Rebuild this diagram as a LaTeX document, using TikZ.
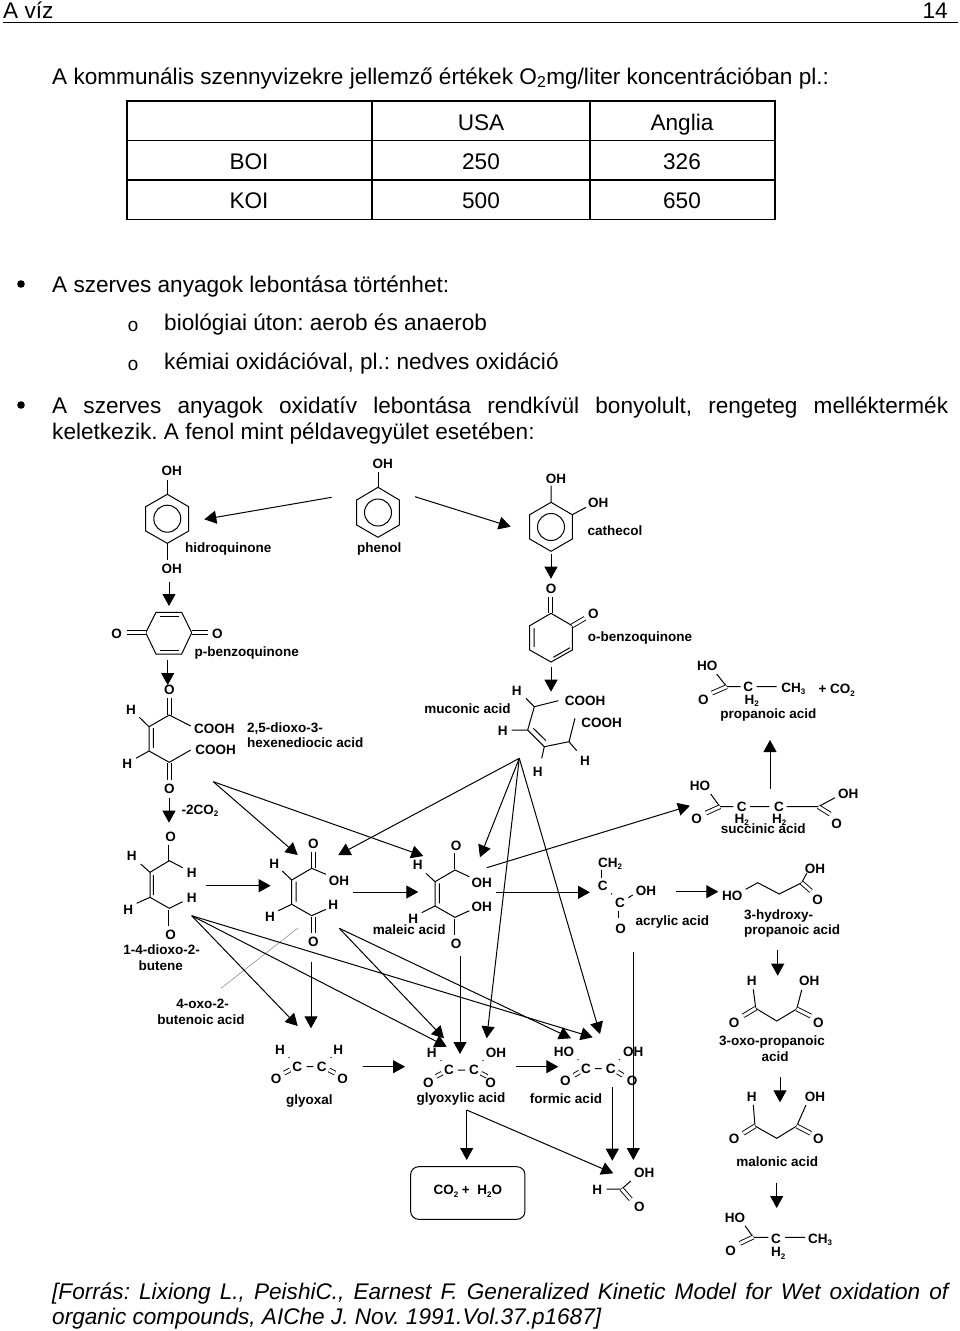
\documentclass[tikz,border=0pt]{standalone}
\usepackage{fontspec}
\setmainfont{Liberation Sans}
\newfontfamily\courfont{Liberation Mono}
\usetikzlibrary{arrows.meta}
\newcommand{\sbs}[1]{\raisebox{-2.6pt}{\fontsize{8}{8}\selectfont #1}}
\tikzset{l/.style={font=\fontsize{22.6}{26}\selectfont, inner sep=0pt, text height=16pt, text depth=0pt}}
\tikzset{m/.style={font=\fontsize{13.5}{14}\selectfont\bfseries, inner sep=0pt, text height=9.7pt, text depth=0pt}}
\tikzset{
arr/.style={line width=1pt, -{Triangle[length=12pt,width=13pt]}}, bond/.style={line width=1pt, line join=miter}, dbl/.style={line width=.9pt, double, double distance=3pt}
}

\begin{document}
\frenchspacing
\begin{tikzpicture}[x=1pt,y=-1pt]
    \useasboundingbox (0,0) rectangle (960,1331);
    % page head and text
    \node [l, anchor=west] (head) at (3,10) {A víz};
    \node [l, anchor=east] (pageno) at (948,10) {14};
    \coordinate (ruleA) at (3,22.5);
    \coordinate (ruleB) at (958,22.5);
    \draw [line width=1.4pt] (ruleA) -- (ruleB);
    \node [l, anchor=west] (intro) at (52,76) {A kommunális szennyvizekre jellemző értékek O\textsubscript{2}mg/liter koncentrációban pl.:};
    % table
    \draw [line width=1.1pt] (127,101) rectangle (775,219.5);
    \draw [line width=1.1pt] (127,140.5) -- (775,140.5) (127,180) -- (775,180) (372,101) -- (372,219.5) (590,101) -- (590,219.5);
    \node [l] (usa) at (481,122) {USA};
    \node [l] (anglia) at (682,122) {Anglia};
    \node [l] (boi) at (249,161) {BOI};
    \node [l] (boiA) at (481,161) {250};
    \node [l] (boiB) at (682,161) {326};
    \node [l] (koi) at (249,200) {KOI};
    \node [l] (koiA) at (481,200) {500};
    \node [l] (koiB) at (682,200) {650};
    % lists
    \fill (21,284) circle [radius=3.8];
    \node [l, anchor=west] (listA) at (52,284) {A szerves anyagok lebontása történhet:};
    \node [l, font=\fontsize{19}{25}\courfont] (oA) at (133,323) {o};
    \node [l, anchor=west] (listB) at (164,322) {biológiai úton: aerob és anaerob};
    \node [l, font=\fontsize{19}{25}\courfont] (oB) at (133,362) {o};
    \node [l, anchor=west] (listC) at (164,361) {kémiai oxidációval, pl.: nedves oxidáció};
    \fill (21,405) circle [radius=3.8];
    \node [l, anchor=west] (listD) at (52,405) {\makebox[896pt][s]{A szerves anyagok oxidatív lebontása rendkívül bonyolult, rengeteg melléktermék}};
    \node [l, anchor=west] (listE) at (52,431) {keletkezik. A fenol mint példavegyület esetében:};
    \node [l, anchor=west, font=\fontsize{22.6}{26}\selectfont\itshape] (srcA) at (52,1291) {\makebox[896pt][s]{[Forrás: Lixiong L., PeishiC., Earnest F. Generalized Kinetic Model for Wet oxidation of}};
    \node [l, anchor=west, font=\fontsize{22.6}{26}\selectfont\itshape] (srcB) at (52,1316) {organic compounds, AIChe J. Nov. 1991.Vol.37.p1687]};

    % hidroquinone
    \draw [bond] (167.3,494.3) -- (188.7,506.7) -- (188.7,531) -- (167.3,543.3) -- (145.7,531) -- (145.7,506.7) -- cycle;
    \draw [bond] (167.3,518.7) circle [radius=13.5];
    \draw [bond] (167.3,494.3) -- (167.3,480) (167.3,543.3) -- (167.3,560);
    \node [m] (hqA) at (171.7,471) {OH};
    \node [m] (hqB) at (171.7,569) {OH};
    \node [m] (hqname) at (228.3,547.3) {hidroquinone};
    % phenol
    \draw [bond] (378,487.3) -- (399.3,500) -- (399.3,525) -- (378,537.3) -- (356.7,525) -- (356.7,500) -- cycle;
    \draw [bond] (378,512.5) circle [radius=13.5];
    \draw [bond] (378,487.3) -- (378,471.7);
    \node [m] (phA) at (382.7,463.3) {OH};
    \node [m] (phname) at (379.3,547.3) {phenol};
    % cathecol
    \draw [bond] (551,502.3) -- (572.3,514.7) -- (572.3,539) -- (551,551.3) -- (529.7,539) -- (529.7,514.7) -- cycle;
    \draw [bond] (551,527) circle [radius=13.5];
    \draw [bond] (551,502.3) -- (551,485.7) (572.3,514.7) -- (586,507.3);
    \node [m] (caA) at (556,478.3) {OH};
    \node [m] (caB) at (598.3,502.3) {OH};
    \node [m] (caname) at (615,531) {cathecol};
    % p-benzoquinone
    \draw [bond] (145.7,632.7) -- (156,612.3) -- (181.7,612.3) -- (191.7,632.7) -- (181.7,654) -- (156,654) -- cycle;
    \draw [bond] (159.5,616) -- (178.5,616) (159.5,650.5) -- (178.5,650.5);
    \draw [dbl] (126.7,632.7) -- (145.7,632.7);
    \draw [dbl] (191.7,632.7) -- (208.3,632.7);
    \node [m] (pbA) at (116.7,633.3) {O};
    \node [m] (pbB) at (217.3,633.3) {O};
    \node [m] (pbname) at (246.7,652) {p-benzoquinone};
    % o-benzoquinone
    \draw [bond] (551,613.3) -- (572.3,625.7) -- (572.3,650) -- (551,662) -- (529.7,650) -- (529.7,625.7) -- cycle;
    \draw [bond] (534,628) -- (534,647) (553.3,657.3) -- (570,647.7);
    \draw [dbl] (550.7,596.7) -- (550.7,613);
    \draw [dbl] (572.3,625.7) -- (585,618.3);
    \node [m] (obA) at (551,589) {O};
    \node [m] (obB) at (593.3,613.3) {O};
    \node [m] (obname) at (640,636.7) {o-benzoquinone};
    % 2,5-dioxo-3-hexenediocic acid
    \draw [dbl] (169.5,698) -- (169.5,715);
    \draw [dbl] (169.5,763) -- (169.5,780);
    \draw [bond] (190.7,726) -- (169.3,715) -- (149,726.7) -- (149,751) -- (169.3,762.3) -- (190.7,750);
    \draw [bond] (153.3,728) -- (153.3,748) (149,726.7) -- (139.3,717.3) (149,751) -- (136,758.3);
    \node [m] (dxA) at (169.3,690) {O};
    \node [m] (dxB) at (169.3,788.3) {O};
    \node [m] (dxC) at (131,710) {H};
    \node [m] (dxD) at (127.3,763.3) {H};
    \node [m] (dxE) at (214.3,728.3) {COOH};
    \node [m] (dxF) at (215.7,749.3) {COOH};
    \node [m, anchor=west] (dxname) at (247,727.3) {2,5-dioxo-3-};
    \node [m, anchor=west] (dxnameB) at (247,742.7) {hexenediocic acid};
    \node [m] (minus) at (200,809.3) {-2CO\sbs{2}};
    % muconic acid
    \draw [bond] (526,698.3) -- (534.3,706.7) -- (558.3,700.7) (534.3,706.7) -- (527.7,730) -- (544.3,746.7) -- (569,741.7) -- (575,718.3) (511.7,730) -- (527.7,730);
    \draw [bond] (533.3,728.3) -- (546,740.7) (544.3,746.7) -- (541.7,758.3) (569,741.7) -- (576.7,750.7);
    \node [m] (muA) at (516.7,690.7) {H};
    \node [m] (muB) at (502.7,730.7) {H};
    \node [m] (muC) at (537.7,771.7) {H};
    \node [m] (muD) at (585,761) {H};
    \node [m] (muE) at (585,700.7) {COOH};
    \node [m] (muF) at (601.7,722.7) {COOH};
    \node [m] (muname) at (467.5,708.7) {muconic acid};
    % propanoic acid + CO2
    \draw [bond] (716.7,674) -- (726.7,686.7) -- (740.7,686.7) (756.7,686.7) -- (776.7,686.7);
    \draw [dbl] (712,693) -- (726.7,686.7);
    \node [m] (paA) at (707.3,665.7) {HO};
    \node [m] (paB) at (703.3,699.3) {O};
    \node [m] (paC) at (748.3,686.7) {C};
    \node [m] (paD) at (793.3,687.3) {CH\sbs{3}};
    \node [m] (paE) at (751.7,699.3) {H\sbs{2}};
    \node [m] (paF) at (836.7,689) {+ CO\sbs{2}};
    \node [m] (paname) at (768.3,713.7) {propanoic acid};
    % succinic acid
    \draw [bond] (710.7,794) -- (720,806.7) -- (733.3,806.7) (750,806.7) -- (769.3,806.7) (786.7,806.7) -- (818.3,806.7) -- (835,797.7);
    \draw [dbl] (706,813) -- (720,806.7);
    \draw [dbl] (818.3,806.7) -- (830,814);
    \node [m] (suA) at (700,786) {HO};
    \node [m] (suB) at (696.7,819) {O};
    \node [m] (suC) at (741.7,806.7) {C};
    \node [m] (suD) at (779,806.7) {C};
    \node [m] (suE) at (848.3,793.3) {OH};
    \node [m] (suF) at (836.7,824) {O};
    \node [m] (suG) at (741.7,818.3) {H\sbs{2}};
    \node [m] (suH) at (779.3,818.3) {H\sbs{2}};
    \node [m] (suname) at (763.3,828.7) {succinic acid};
    % 1-4-dioxo-2-butene
    \draw [dbl] (170,845) -- (170,860.7);
    \draw [dbl] (170,910) -- (170,926);
    \draw [bond] (182.7,867.7) -- (169.3,860.7) -- (150,872.3) -- (150,897.3) -- (169.3,908.3) -- (182.7,901.7);
    \draw [bond] (153.3,875) -- (153.3,895) (150,872.3) -- (140.7,864) (150,897.3) -- (136.7,903.3);
    \node [m] (dbA) at (170.7,836.7) {O};
    \node [m] (dbB) at (170.7,935) {O};
    \node [m] (dbC) at (131.7,856) {H};
    \node [m] (dbD) at (128.3,909.3) {H};
    \node [m] (dbE) at (191.7,872.7) {H};
    \node [m] (dbF) at (191.7,897.3) {H};
    \node [m] (dbname) at (161.7,949.3) {1-4-dioxo-2-};
    \node [m] (dbnameB) at (160.7,965.3) {butene};
    % 4-oxo-2-butenoic acid
    \draw [dbl] (313.3,851.7) -- (313.3,867.7);
    \draw [dbl] (313.3,917.3) -- (313.3,933.3);
    \draw [bond] (326,874.3) -- (311.7,868.3) -- (291.7,880) -- (291.7,904.3) -- (311.7,915.7) -- (326,909.3);
    \draw [bond] (296,881.7) -- (296,901.7) (291.7,880) -- (282.3,871) (291.7,904.3) -- (278.3,910.7);
    \node [m] (ooA) at (313.3,844) {O};
    \node [m] (ooB) at (313.3,941.7) {O};
    \node [m] (ooC) at (274.3,863.3) {H};
    \node [m] (ooD) at (270,916.7) {H};
    \node [m] (ooE) at (339,880.3) {OH};
    \node [m] (ooF) at (333.3,904.7) {H};
    \node [m] (ooname) at (202.7,1003.3) {4-oxo-2-};
    \node [m] (oonameB) at (201,1019.3) {butenoic acid};
    \coordinate (ooleadA) at (298.3,927.7);
    \coordinate (ooleadB) at (221,988.3);
    \draw [line width=.5pt, gray] (ooleadA) -- (ooleadB);
    % maleic acid
    \draw [dbl] (456,853.3) -- (456,869.3);
    \draw [dbl] (456,919) -- (456,935);
    \draw [bond] (469.3,876.7) -- (455,870) -- (435,881.7) -- (435,906) -- (455,917.3) -- (469.3,910.7);
    \draw [bond] (439.3,883.3) -- (439.3,903.3) (435,881.7) -- (426,873.3) (435,906) -- (421.7,912.7);
    \node [m] (maA) at (456,846) {O};
    \node [m] (maB) at (456,944) {O};
    \node [m] (maC) at (417.7,865) {H};
    \node [m] (maD) at (413.3,919) {H};
    \node [m] (maE) at (481.7,882.3) {OH};
    \node [m] (maF) at (481.7,907) {OH};
    \node [m] (maname) at (409.3,930) {maleic acid};
    % acrylic acid
    \draw [dbl] (603,870) -- (603,878.3);
    \draw [dbl] (620,911) -- (620,918.3);
    \draw [bond] (611.2,893.5) -- (611.9,894.2) (628.3,897.7) -- (632.7,895);
    \node [m] (acA) at (610,862.3) {CH\sbs{2}};
    \node [m] (acB) at (602.7,886) {C};
    \node [m] (acC) at (620,902.7) {C};
    \node [m] (acD) at (646,891) {OH};
    \node [m] (acE) at (620.7,928.3) {O};
    \node [m] (acname) at (672.3,921) {acrylic acid};
    % 3-hydroxy-propanoic acid
    \draw [bond] (745.7,889.3) -- (757.7,882.7) -- (779.3,894) -- (801.7,882.7) -- (806.7,873.3);
    \draw [dbl] (801.7,882.7) -- (811,891);
    \node [m] (hyA) at (732.3,895.3) {HO};
    \node [m] (hyB) at (815,868.3) {OH};
    \node [m] (hyC) at (817.7,900) {O};
    \node [m, anchor=west] (hyname) at (744,914.3) {3-hydroxy-};
    \node [m, anchor=west] (hynameB) at (744,930) {propanoic acid};
    % 3-oxo-propanoic acid
    \draw [bond] (753.3,989.3) -- (755.7,1008.3) -- (776.7,1021) -- (796.7,1009) -- (801.7,990);
    \draw [dbl] (755.7,1008.3) -- (743.3,1015.7);
    \draw [dbl] (796.7,1009) -- (810.7,1016);
    \node [m] (oxA) at (751.7,980.7) {H};
    \node [m] (oxB) at (809.3,981) {OH};
    \node [m] (oxC) at (734,1022.3) {O};
    \node [m] (oxD) at (818.3,1022.3) {O};
    \node [m] (oxname) at (772,1041) {3-oxo-propanoic};
    \node [m] (oxnameB) at (775,1057) {acid};
    % malonic acid
    \draw [bond] (753.3,1105) -- (755,1126) -- (776.7,1138.3) -- (796.7,1126) -- (806,1105);
    \draw [dbl] (755,1126) -- (743.3,1133.3);
    \draw [dbl] (796.7,1126) -- (810.7,1133.3);
    \node [m] (moA) at (751.7,1097) {H};
    \node [m] (moB) at (815,1096.3) {OH};
    \node [m] (moC) at (734,1138.3) {O};
    \node [m] (moD) at (818.3,1138.3) {O};
    \node [m] (moname) at (777.3,1162) {malonic acid};
    % propanoic acid
    \draw [bond] (745,1225.7) -- (753.3,1237.3) -- (768.3,1237.3) (785,1237.3) -- (805,1237.3);
    \draw [dbl] (740,1243.3) -- (753.3,1237);
    \node [m] (prA) at (735,1217.3) {HO};
    \node [m] (prB) at (730.7,1250.7) {O};
    \node [m] (prC) at (776,1238.3) {C};
    \node [m] (prD) at (820,1238.3) {CH\sbs{3}};
    \node [m] (prE) at (778.3,1251.7) {H\sbs{2}};
    % glyoxal
    \draw [bond] (288.7,1057) -- (289.3,1057.7) (330.7,1057.7) -- (331.3,1057) (306.7,1066.7) -- (313.3,1066.7);
    \draw [dbl] (284.3,1073) -- (290,1070);
    \draw [dbl] (329,1070) -- (335,1073);
    \node [m] (gxA) at (280,1049.3) {H};
    \node [m] (gxB) at (338.3,1049.3) {H};
    \node [m] (gxC) at (297.3,1066.7) {C};
    \node [m] (gxD) at (321.7,1066.7) {C};
    \node [m] (gxE) at (276,1079) {O};
    \node [m] (gxF) at (342.7,1079) {O};
    \node [m] (gxname) at (309.3,1100) {glyoxal};
    % glyoxylic acid
    \draw [bond] (440.7,1060.3) -- (441.3,1061) (482.7,1061) -- (483.3,1060.3) (458,1070) -- (465,1070);
    \draw [dbl] (436.3,1076.3) -- (442,1073.3);
    \draw [dbl] (481,1073.3) -- (487,1076.3);
    \node [m] (gyA) at (431.7,1052.3) {H};
    \node [m] (gyB) at (496,1052.3) {OH};
    \node [m] (gyC) at (449,1070) {C};
    \node [m] (gyD) at (474,1070) {C};
    \node [m] (gyE) at (428.3,1082.3) {O};
    \node [m] (gyF) at (490.7,1082.3) {O};
    \node [m] (gyname) at (461,1097.5) {glyoxylic acid};
    % formic acid
    \draw [bond] (577.7,1059.3) -- (578.3,1060) (619,1060) -- (619.6,1059.3) (595,1068.7) -- (601.7,1068.7);
    \draw [dbl] (574,1075.3) -- (579.5,1072);
    \draw [dbl] (617.5,1072) -- (623,1075.3);
    \node [m] (foA) at (564,1051.3) {HO};
    \node [m] (foB) at (633.3,1051.3) {OH};
    \node [m] (foC) at (586,1068.7) {C};
    \node [m] (foD) at (610.7,1068.7) {C};
    \node [m] (foE) at (565.3,1080.7) {O};
    \node [m] (foF) at (632,1080.7) {O};
    \node [m] (foname) at (566,1098.7) {formic acid};
    % formic acid, lower one
    \draw [bond] (606.7,1189) -- (621.7,1189) -- (630.7,1181);
    \draw [dbl] (621.7,1189) -- (630.7,1199.3);
    \node [m] (fhA) at (597.3,1189.3) {H};
    \node [m] (fhB) at (644.3,1172.3) {OH};
    \node [m] (fhC) at (639.3,1206.7) {O};
    % end products
    \node [m, draw, line width=1pt, rounded corners=8pt, minimum width=114.3pt, minimum height=52.6pt, text depth=6pt] (end) at (467.8,1193) {CO\sbs{2} +\; H\sbs{2}O};

    % arrow ends
    \coordinate (a1) at (331.7,497.3);
    \coordinate (b1) at (204.3,519.3);
    \coordinate (a2) at (415,496.7);
    \coordinate (b2) at (510.7,526.7);
    \coordinate (a3) at (169,581.7);
    \coordinate (b3) at (169,606);
    \coordinate (a4) at (167.7,660);
    \coordinate (b4) at (167.7,685);
    \coordinate (a5) at (551,554);
    \coordinate (b5) at (551,578.7);
    \coordinate (a6) at (551,667.3);
    \coordinate (b6) at (551,691.7);
    \coordinate (a7) at (169,797.7);
    \coordinate (b7) at (169,822.7);
    \coordinate (a8) at (770,789.3);
    \coordinate (b8) at (770,740);
    \coordinate (peakdx) at (213.3,781.7);
    \coordinate (b9) at (297.7,855);
    \coordinate (b10) at (423.3,856);
    \coordinate (peakmu) at (519.3,758.3);
    \coordinate (b11) at (338.3,855);
    \coordinate (b12) at (480,857.3);
    \coordinate (b13) at (486.7,1038.3);
    \coordinate (b14) at (600,1034);
    \coordinate (a15) at (486.7,867.7);
    \coordinate (b15) at (690,805.7);
    \coordinate (a16) at (206,885.7);
    \coordinate (b16) at (270.7,885.7);
    \coordinate (a17) at (352.7,892);
    \coordinate (b17) at (418.3,892);
    \coordinate (a18) at (496,892.3);
    \coordinate (b18) at (590,892.3);
    \coordinate (a19) at (676,891.7);
    \coordinate (b19) at (718.3,891.7);
    \coordinate (a20) at (777.7,950);
    \coordinate (b20) at (777.7,975.7);
    \coordinate (a21) at (780,1077.3);
    \coordinate (b21) at (780,1102.3);
    \coordinate (a22) at (776.7,1182.7);
    \coordinate (b22) at (776.7,1208);
    \coordinate (peakdb) at (191.7,915.7);
    \coordinate (b23) at (297.7,1026);
    \coordinate (b24) at (446.7,1046.7);
    \coordinate (b25) at (592.7,1037.3);
    \coordinate (peakoo) at (339.3,928.3);
    \coordinate (b26) at (444,1038.3);
    \coordinate (b27) at (571,1038.3);
    \coordinate (a28) at (311,961.7);
    \coordinate (b28) at (311,1028.3);
    \coordinate (a29) at (460,956);
    \coordinate (b29) at (460,1054);
    \coordinate (a30) at (362.7,1066.7);
    \coordinate (b30) at (405,1066.7);
    \coordinate (a31) at (516,1066.7);
    \coordinate (b31) at (558.3,1066.7);
    \coordinate (peakgy) at (466.7,1110);
    \coordinate (b32) at (466.7,1160);
    \coordinate (b33) at (613.3,1173.3);
    \coordinate (a34) at (612.3,1086.7);
    \coordinate (b34) at (612.3,1160.7);
    \coordinate (a35) at (633.3,952.3);
    \coordinate (b35) at (633.3,1160);

    \draw [arr] (a1) -- (b1);
    \draw [arr] (a2) -- (b2);
    \draw [arr] (a3) -- (b3);
    \draw [arr] (a4) -- (b4);
    \draw [arr] (a5) -- (b5);
    \draw [arr] (a6) -- (b6);
    \draw [arr] (a7) -- (b7);
    \draw [arr] (a8) -- (b8);
    \draw [arr] (peakdx) -- (b9);
    \draw [arr] (peakdx) -- (b10);
    \draw [arr] (peakmu) -- (b11);
    \draw [arr] (peakmu) -- (b12);
    \draw [arr] (peakmu) -- (b13);
    \draw [arr] (peakmu) -- (b14);
    \draw [arr] (a15) -- (b15);
    \draw [arr] (a16) -- (b16);
    \draw [arr] (a17) -- (b17);
    \draw [arr] (a18) -- (b18);
    \draw [arr] (a19) -- (b19);
    \draw [arr] (a20) -- (b20);
    \draw [arr] (a21) -- (b21);
    \draw [arr] (a22) -- (b22);
    \draw [arr] (peakdb) -- (b23);
    \draw [arr] (peakdb) -- (b24);
    \draw [arr] (peakdb) -- (b25);
    \draw [arr] (peakoo) -- (b26);
    \draw [arr] (peakoo) -- (b27);
    \draw [arr] (a28) -- (b28);
    \draw [arr] (a29) -- (b29);
    \draw [arr] (a30) -- (b30);
    \draw [arr] (a31) -- (b31);
    \draw [arr] (peakgy) -- (b32);
    \draw [arr] (peakgy) -- (b33);
    \draw [arr] (a34) -- (b34);
    \draw [arr] (a35) -- (b35);
\end{tikzpicture}
\end{document}
